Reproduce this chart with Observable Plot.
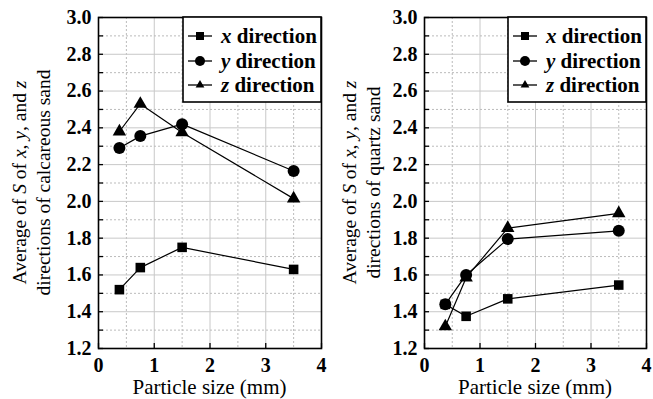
<!DOCTYPE html>
<html><head><meta charset="utf-8">
<script src="https://cdn.jsdelivr.net/npm/d3@7"></script>
<script src="https://cdn.jsdelivr.net/npm/@observablehq/plot@0.6"></script>
</head>
<body style="margin:0;background:#fff">
<div id="wrap" style="width:653px;height:399px;white-space:nowrap;font-size:0"></div>
<script>
const sizes = [0.375, 0.75, 1.5, 3.5];
const calcX = [1.52, 1.64, 1.75, 1.63];
const calcY = [2.29, 2.355, 2.42, 2.165];
const calcZ = [2.38, 2.53, 2.375, 2.015];
const quartzX = [1.44, 1.375, 1.47, 1.545];
const quartzY = [1.44, 1.60, 1.795, 1.84];
const quartzZ = [1.32, 1.585, 1.855, 1.935];
const xTicks = [0, 1, 2, 3, 4];
const xGridMajor = [1, 2, 3];
const xGridMinor = [0.5, 1.5, 2.5, 3.5];
const yTicks = [1.2, 1.4, 1.6, 1.8, 2.0, 2.2, 2.4, 2.6, 2.8, 3.0];
const yGridMajor = [1.4, 1.6, 1.8, 2.0, 2.2, 2.4, 2.6, 2.8];
const yGridMinor = [1.3, 1.5, 1.7, 1.9, 2.1, 2.3, 2.5, 2.7, 2.9];
const seriesNames = ["x", "y", "z"];
const symbols = ["square", "circle", "triangle"];
const radii = [5.4, 6, 5];

const FONT = "Liberation Serif";

function panel({width, marginLeft, marginRight, series, material}) {
  const marks = [
    Plot.gridX(xGridMinor, {stroke: "#bbb", strokeOpacity: 1, strokeDasharray: "2,2"}),
    Plot.gridX(xGridMajor, {stroke: "#c8c8c8", strokeOpacity: 1}),
    Plot.gridY(yGridMinor, {stroke: "#bbb", strokeOpacity: 1, strokeDasharray: "2,2"}),
    Plot.gridY(yGridMajor, {stroke: "#c8c8c8", strokeOpacity: 1}),
    Plot.axisX({ticks: xTicks, tickSize: -5, tickPadding: 14, fontFamily: FONT, fontSize: 20, fontWeight: "bold", label: null, tickFormat: d3.format("d"), strokeWidth: 1.3}),
    Plot.axisY({ticks: yTicks, tickSize: -5, tickPadding: 12, fontFamily: FONT, fontSize: 20, fontWeight: "bold", label: null, tickFormat: d3.format(".1f"), strokeWidth: 1.3}),
    Plot.axisY({ticks: yGridMinor, tickSize: -5, tickFormat: () => "", label: null, strokeWidth: 1.3}),
    Plot.frame({stroke: "black", strokeWidth: 1.6})
  ];
  series.forEach((vals, i) => {
    const data = sizes.map((s, j) => ({s, v: vals[j]}));
    marks.push(Plot.line(data, {x: "s", y: "v", stroke: "black", strokeWidth: 1.2}));
    marks.push(Plot.dot(data, {x: "s", y: "v", symbol: symbols[i], r: radii[i], fill: "black", stroke: "none"}));
  });
  const svg = Plot.plot({
    width, height: 399,
    marginLeft, marginRight, marginTop: 17, marginBottom: 51,
    style: {fontFamily: FONT, fontSize: "20px", color: "black", background: "white", overflow: "visible", display: "inline-block"},
    x: {domain: [0, 4]},
    y: {domain: [1.2, 3.0]},
    marks
  });
  svg.setAttribute("font-family", FONT);
  const s = d3.select(svg);
  const plotLeft = marginLeft, plotRight = width - marginRight;
  const cy = (17 + 348) / 2;
  // y label
  const t1 = s.append("text").attr("transform", `translate(19,${cy}) rotate(-90)`)
    .attr("text-anchor", "middle").attr("dominant-baseline", "central")
    .attr("font-family", FONT).attr("font-size", 19.5).attr("fill", "black");
  [["Average of ", false], ["S", true], [" of ", false], ["x", true], [", ", false], ["y", true], [", and ", false], ["z", true]]
    .forEach(([t, it]) => t1.append("tspan").attr("font-style", it ? "italic" : "normal").text(t));
  s.append("text").attr("transform", `translate(43,${cy}) rotate(-90)`)
    .attr("text-anchor", "middle").attr("dominant-baseline", "central")
    .attr("font-family", FONT).attr("font-size", 19.5).attr("fill", "black")
    .text(`directions of ${material} sand`);
  // x label
  s.append("text").attr("x", (plotLeft + plotRight) / 2).attr("y", 387)
    .attr("text-anchor", "middle").attr("dominant-baseline", "central")
    .attr("font-family", FONT).attr("font-size", 21).attr("fill", "black")
    .text("Particle size (mm)");
  // legend
  const lw = 138, lx = plotRight - lw, ly = 17, lh = 85;
  const lg = s.append("g");
  lg.append("rect").attr("x", lx).attr("y", ly).attr("width", lw).attr("height", lh)
    .attr("fill", "white").attr("stroke", "black").attr("stroke-width", 1.6);
  const rows = [36, 61, 85];
  const d3sym = [d3.symbolSquare, d3.symbolCircle, d3.symbolTriangle2];
  seriesNames.forEach((n, i) => {
    const yy = rows[i];
    lg.append("line").attr("x1", lx + 5).attr("x2", lx + 29).attr("y1", yy).attr("y2", yy)
      .attr("stroke", "black").attr("stroke-width", 1.3);
    lg.append("path").attr("transform", `translate(${lx + 17},${yy})`)
      .attr("d", d3.symbol(d3sym[i], Math.PI * radii[i] * radii[i] * 0.7)()).attr("fill", "black");
    const t = lg.append("text").attr("x", lx + 38).attr("y", yy).attr("dominant-baseline", "central")
      .attr("text-anchor", "start").attr("font-family", FONT).attr("font-size", 21)
      .attr("font-weight", "bold").attr("fill", "black");
    t.append("tspan").attr("font-style", "italic").text(n);
    t.append("tspan").text(" direction");
  });
  return svg;
}

const wrap = document.getElementById("wrap");
wrap.appendChild(panel({width: 330, marginLeft: 98, marginRight: 9, series: [calcX, calcY, calcZ], material: "calcareous"}));
wrap.appendChild(panel({width: 323, marginLeft: 94, marginRight: 7, series: [quartzX, quartzY, quartzZ], material: "quartz"}));
</script></body></html>
